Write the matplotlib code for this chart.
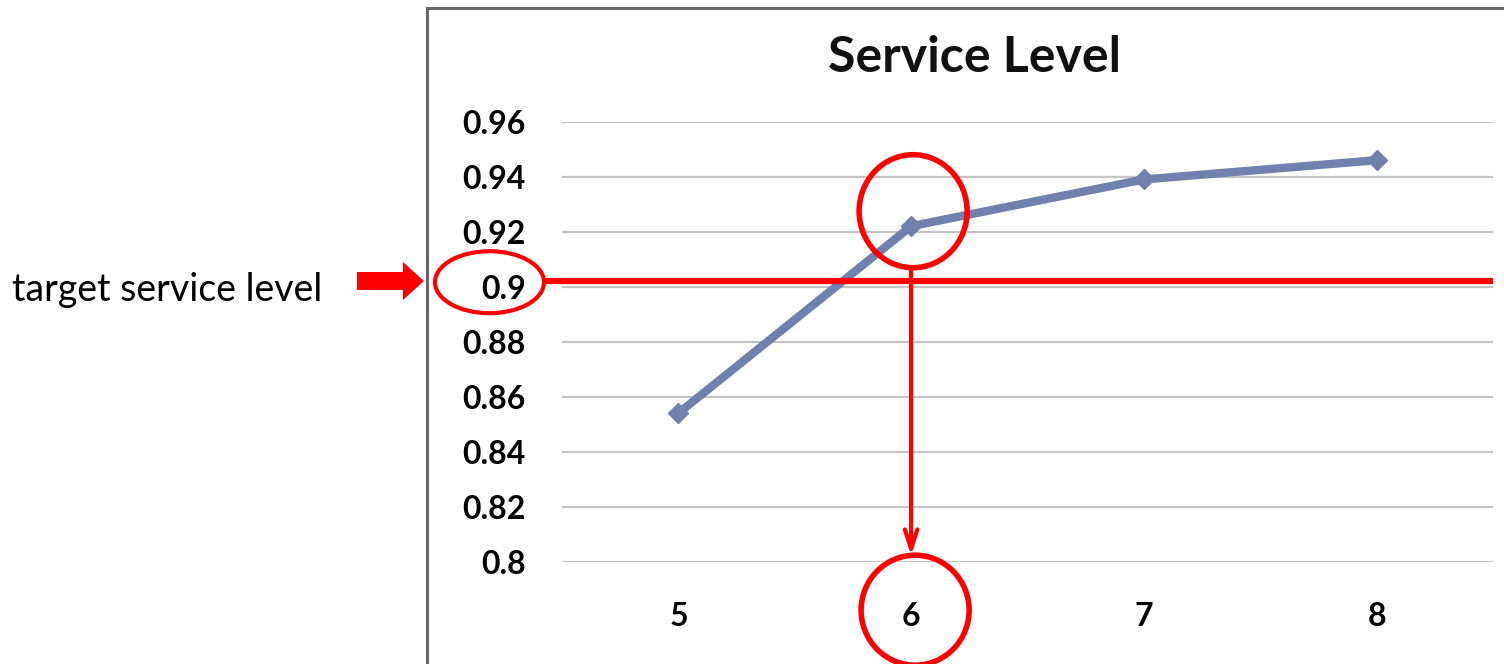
import matplotlib
matplotlib.use("Agg")
import matplotlib.pyplot as plt
from matplotlib.patches import Ellipse, Rectangle, Polygon
import numpy as np

# ---- data ----
categories = ["5", "6", "7", "8"]
service_level = [0.854, 0.922, 0.939, 0.946]
y_ticks = [0.8, 0.82, 0.84, 0.86, 0.88, 0.9, 0.92, 0.94, 0.96]
y_tick_labels = ["0.8", "0.82", "0.84", "0.86", "0.88", "0.9", "0.92", "0.94", "0.96"]
target_level = 0.902
chosen_category = "6"
title = "Service Level"
side_label = "target service level"

W, H = 1504, 664
DPI = 100
fig = plt.figure(figsize=(W / DPI, H / DPI), dpi=DPI)
plt.rcParams['font.family'] = ['Lato', 'DejaVu Sans']

def px(x0, y0_top):
    return x0 / W, 1 - y0_top / H

# axes area (pixels)
ax_l, ax_r, ax_t, ax_b = 562, 1493, 121.7, 561.7
ax = fig.add_axes([ax_l / W, 1 - ax_b / H, (ax_r - ax_l) / W, (ax_b - ax_t) / H])

xs = np.arange(len(categories))
ax.set_xlim(-0.5, len(categories) - 0.5)
ax.set_ylim(y_ticks[0], y_ticks[-1])
ax.set_yticks(y_ticks)
ax.set_yticklabels(y_tick_labels)
ax.set_xticks(xs)
ax.set_xticklabels(categories)
ax.tick_params(length=0)
ax.tick_params(axis='y', pad=26, labelsize=23)
ax.tick_params(axis='x', pad=29, labelsize=23)
for lab in ax.get_yticklabels() + ax.get_xticklabels():
    lab.set_fontweight('bold')
for s in ax.spines.values():
    s.set_visible(False)
ax.grid(axis='y', color='#C4C4C4', linewidth=1.6)
ax.set_axisbelow(True)

# data line
ax.plot(xs, service_level, color='#7180AC', linewidth=6, marker='D', markersize=10,
        solid_capstyle='round', zorder=3)

# title
fig.text(*px(975, 57), title, ha='center', va='center', fontsize=36, fontweight='bold',
         color='#111111')

# outer box
fig.add_artist(Rectangle(px(427, 700), (1600 - 427) / W, (700 - 8) / H,
                         transform=fig.transFigure, fill=False, edgecolor='#666666',
                         linewidth=2.2, clip_on=False))

# units per pixel
ux = 1.0 / ((ax_r - ax_l) / len(categories))
uy = (y_ticks[-1] - y_ticks[0]) / (ax_b - ax_t)

# target line
ax.plot([-0.5 - 19 * ux, len(categories) - 0.5], [target_level, target_level],
        color='red', linewidth=4.5, clip_on=False, zorder=4, solid_capstyle='butt')

# ellipse around 0.9 label
ax.add_patch(Ellipse((-0.5 - 72.5 * ux, target_level - 1 * uy), 109 * ux, 62 * uy,
                     fill=False, edgecolor='red', linewidth=3, clip_on=False, zorder=5))

ci = categories.index(chosen_category)
yv = service_level[ci]
# circle around chosen point
ax.add_patch(Ellipse((ci + 2 * ux, yv + 15 * uy), 108 * ux, 113 * uy,
                     fill=False, edgecolor='red', linewidth=4, clip_on=False, zorder=5))
# circle around chosen tick label
ax.add_patch(Ellipse((ci + 4 * ux, y_ticks[0] - 48.5 * uy), 108 * ux, 110 * uy,
                     fill=False, edgecolor='red', linewidth=4, clip_on=False, zorder=5))
# vertical arrow
ax.annotate("", xy=(ci, y_ticks[0] + 6 * uy), xytext=(ci, yv + 15 * uy - 56.5 * uy),
            arrowprops=dict(arrowstyle='->,head_length=1.4,head_width=0.45', color='red',
                            lw=3, shrinkA=0, shrinkB=0), annotation_clip=False, zorder=5)

# left label
fig.text(*px(12, 290), side_label, ha='left', va='center', fontsize=27, color='black')

# block arrow (pixel coords -> figure fraction)
arrow_px = [(357, 272), (403, 272), (403, 262), (424, 281), (403, 300), (403, 290), (357, 290)]
fig.add_artist(Polygon([px(x, y) for x, y in arrow_px], closed=True,
                       transform=fig.transFigure, facecolor='red', edgecolor='none'))

fig.savefig("out.png", dpi=DPI, facecolor='white')
